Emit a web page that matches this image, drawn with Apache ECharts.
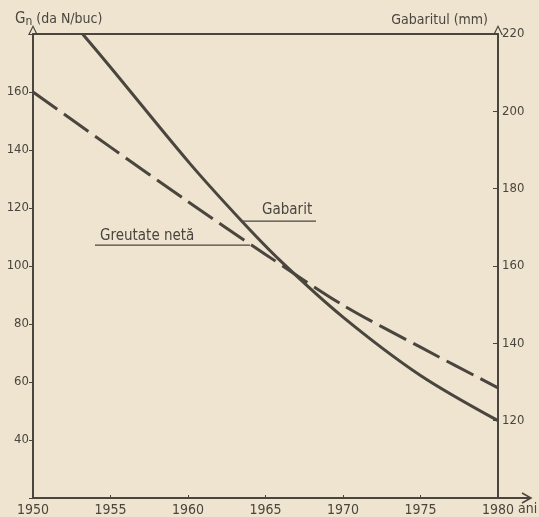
<!DOCTYPE html>
<html>
<head>
<meta charset="utf-8">
<script src="https://cdn.jsdelivr.net/npm/echarts@6/dist/echarts.min.js"></script>
<style>
html,body{margin:0;padding:0;background:#eee4cf;}
#c{width:539px;height:517px;}
</style>
</head>
<body>
<div id="c"></div>
<script>
// ---- data ----
const years = [1950, 1955, 1960, 1965, 1970, 1975, 1980];
const netWeightYears = [1950, 1955, 1960, 1965, 1970, 1975, 1980];
const netWeight = [160, 141, 122.2, 104, 86.5, 72, 58];            // Gn (da N/buc)
const gabaritYears = [1953.2, 1955, 1960.1, 1963.4, 1965.9, 1970, 1975, 1980];
const gabarit = [220, 211.4, 186.6, 171.9, 161.6, 146.8, 131.7, 120]; // mm
const leftTicks = [40, 60, 80, 100, 120, 140, 160];
const rightTicks = [120, 140, 160, 180, 200, 220];
const labelNet = 'Greutate netă';
const labelGab = 'Gabarit';

const ink = '#4a453e';
const cond = '"DejaVu Sans Condensed","DejaVu Sans",sans-serif';
const chevron = 'path://M0,10L5,0L10,10L8.6,10L5,2.6L1.4,10Z';

const chart = echarts.init(document.getElementById('c'), null, {renderer: 'canvas'});

const option = {
  backgroundColor: '#eee4cf',
  animation: false,
  grid: {left: 33, right: 41, top: 34, bottom: 19},
  xAxis: [{
    type: 'value', min: 1950, max: 1980, interval: 5,
    axisLine: {show: true, lineStyle: {color: ink, width: 2}},
    axisTick: {show: true, inside: true, length: 3, lineStyle: {color: ink}},
    axisLabel: {color: ink, fontFamily: cond, fontSize: 14, margin: 5,
      formatter: v => years.includes(v) ? String(v) : ''},
    splitLine: {show: false}
  }, {
    type: 'value', position: 'top', min: 1950, max: 1980,
    axisLine: {show: true, lineStyle: {color: ink, width: 2}},
    axisTick: {show: false}, axisLabel: {show: false}, splitLine: {show: false}
  }],
  yAxis: [{
    type: 'value', min: 20, max: 180, interval: 20, position: 'left',
    name: '{g|G}{s|n}{t| (da N/buc)}',
    nameLocation: 'end', nameGap: 6,
    nameTextStyle: {align: 'left', padding: [0, 0, 0, -18],
      rich: {
        g: {fontFamily: cond, fontSize: 15, color: ink},
        s: {fontFamily: cond, fontSize: 12, color: ink, padding: [6, 0, 0, 0]},
        t: {fontFamily: cond, fontSize: 14, color: ink}
      }},
    axisLine: {show: true, lineStyle: {color: ink, width: 2}, symbol: ['none', chevron], symbolSize: [10, 12], symbolOffset: [0, 4]},
    axisTick: {show: true, length: 4, lineStyle: {color: ink}},
    axisLabel: {color: ink, fontFamily: cond, fontSize: 13, margin: 4,
      formatter: v => leftTicks.includes(v) ? String(v) : ''},
    splitLine: {show: false}
  }, {
    type: 'value', min: 100, max: 220, interval: 20, position: 'right',
    name: 'Gabaritul (mm)',
    nameLocation: 'end', nameGap: 7,
    nameTextStyle: {align: 'right', padding: [0, 10, 0, 0], color: ink, fontFamily: cond, fontSize: 14},
    axisLine: {show: true, lineStyle: {color: ink, width: 2}, symbol: ['none', chevron], symbolSize: [10, 12], symbolOffset: [0, 4]},
    axisTick: {show: true, inside: true, length: 5, lineStyle: {color: ink}},
    axisLabel: {color: ink, fontFamily: cond, fontSize: 13, margin: 4,
      formatter: v => rightTicks.includes(v) ? String(v) : ''},
    splitLine: {show: false}
  }],
  series: [{
    name: labelNet, type: 'line', xAxisIndex: 0, yAxisIndex: 0,
    data: netWeightYears.map((y, i) => [y, netWeight[i]]),
    smooth: 0.3, symbol: 'none',
    lineStyle: {color: ink, width: 3, type: [30, 8]}
  }, {
    name: labelGab, type: 'line', xAxisIndex: 0, yAxisIndex: 1,
    data: gabaritYears.map((y, i) => [y, gabarit[i]]),
    smooth: 0.3, symbol: 'none',
    lineStyle: {color: ink, width: 3}
  }]
};
chart.setOption(option);

// decorations: x-axis extension arrow, "ani", leader labels
const x80 = chart.convertToPixel({xAxisIndex: 0}, 1980);
const y0 = chart.convertToPixel({yAxisIndex: 0}, 20);
const lp = (yr, v) => chart.convertToPixel({xAxisIndex: 0, yAxisIndex: 0}, [yr, v]);
const pNet = lp(1964.0, 107.2);
const pGab = lp(1963.55, 115.5);
chart.setOption({
  graphic: [
    {type: 'line', shape: {x1: x80, y1: y0, x2: x80 + 32, y2: y0}, style: {stroke: ink, lineWidth: 2}},
    {type: 'polyline', shape: {points: [[x80 + 24, y0 - 5], [x80 + 33, y0], [x80 + 24, y0 + 5]]}, style: {stroke: ink, lineWidth: 1.5, fill: null}},
    {type: 'text', style: {text: 'ani', x: x80 + 20, y: y0 + 4, fill: ink, font: '14px ' + cond}},
    {type: 'line', shape: {x1: pNet[0] - 155, y1: pNet[1], x2: pNet[0], y2: pNet[1]}, style: {stroke: ink, lineWidth: 1.3}},
    {type: 'text', style: {text: labelNet, x: pNet[0] - 150, y: pNet[1] - 2, textVerticalAlign: 'bottom', fill: ink, font: '15px ' + cond}},
    {type: 'line', shape: {x1: pGab[0], y1: pGab[1], x2: pGab[0] + 73, y2: pGab[1]}, style: {stroke: ink, lineWidth: 1.3}},
    {type: 'text', style: {text: labelGab, x: pGab[0] + 19, y: pGab[1] - 3, textVerticalAlign: 'bottom', fill: ink, font: '15px ' + cond}}
  ]
});
</script>
</body>
</html>
